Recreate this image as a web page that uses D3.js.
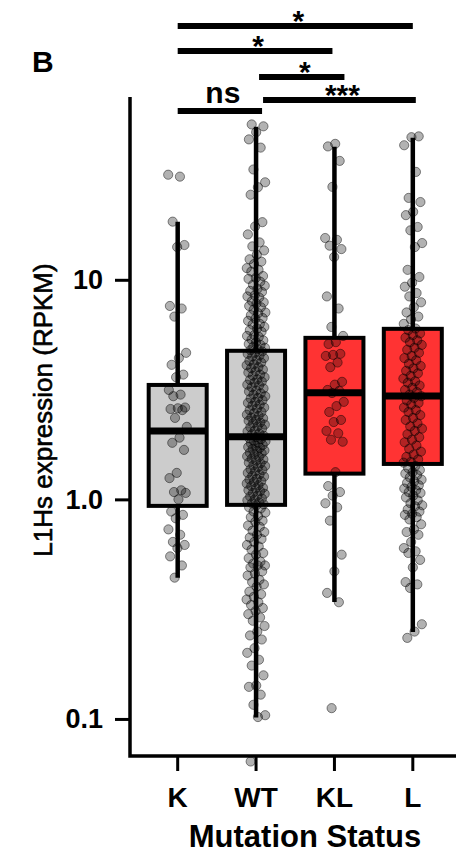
<!DOCTYPE html>
<html>
<head>
<meta charset="utf-8">
<script src="https://cdn.jsdelivr.net/npm/d3@7"></script>
<style>
  body { margin: 0; background: #fff; }
  svg text { font-family: "Liberation Sans", Arial, sans-serif; fill: #000; }
</style>
</head>
<body>
<svg id="chart" width="456" height="854"></svg>
<script>
// data
var groups = ["K", "WT", "KL", "L"];
var q1 = [0.934, 0.944, 1.31, 1.45];
var median = [2.05, 1.93, 3.06, 2.96];
var q3 = [3.32, 4.75, 5.44, 5.98];
var whiskerLow = [0.439, 0.1016, 0.341, 0.249];
var whiskerHigh = [18.4, 49.8, 40.4, 44.4];

var kPoints = [30.1, 29.5, 18.4, 14.4, 14.1, 7.6, 7.4, 6.8, 4.65, 4.4, 4.1, 3.7, 3.6, 3.15, 3.0, 2.95,
  2.62, 2.6, 2.58, 2.55, 2.35, 2.14, 1.91, 1.81, 1.68, 1.32, 1.25, 1.1, 1.08, 1.07, 1.0,
  0.88, 0.85, 0.82, 0.73, 0.69, 0.64, 0.62, 0.6, 0.55, 0.5, 0.44];

var wtPoints = [51, 50, 47, 43.6, 40, 31.8, 27.8, 26.4, 24.4, 18.3, 17.5, 16.1, 14.8, 14.2, 13.6,
  13.0, 12.4, 12.1, 11.8, 11.3, 11.1, 10.9, 10.4, 10.2, 10.1, 9.8, 9.5, 9.4, 9.1, 8.9, 8.8, 8.5,
  8.4, 8.3, 8.0, 7.9, 7.8, 7.6, 7.5, 7.3, 7.1, 7.05, 6.9, 6.7, 6.65, 6.5, 6.3, 6.25, 6.1, 6.0,
  5.9, 5.8, 5.6, 5.55, 5.5, 5.35, 5.3, 5.2, 5.1, 5.05, 4.95, 4.9, 4.83, 4.78,
  4.72, 4.65, 4.6, 4.52, 4.47, 4.4, 4.31, 4.27, 4.2, 4.12, 4.08, 4.0, 3.96, 3.9, 3.83, 3.78,
  3.7, 3.66, 3.6, 3.52, 3.5, 3.44, 3.4, 3.33, 3.3, 3.24, 3.2, 3.13, 3.1, 3.04, 3.0, 2.95, 2.9,
  2.88, 2.83, 2.78, 2.75, 2.7, 2.67, 2.62, 2.59, 2.55, 2.5, 2.47, 2.43, 2.4, 2.36, 2.34, 2.3,
  2.28, 2.24, 2.22, 2.19, 2.15, 2.13, 2.1, 2.06, 2.04, 2.0, 1.98, 1.95,
  1.92, 1.9, 1.88, 1.85, 1.84, 1.81, 1.8, 1.77, 1.76, 1.73, 1.72, 1.7, 1.67, 1.66, 1.63, 1.62,
  1.6, 1.57, 1.56, 1.53, 1.52, 1.5, 1.47, 1.46, 1.43, 1.42, 1.4, 1.37, 1.36, 1.34, 1.32, 1.3,
  1.28, 1.27, 1.24, 1.23, 1.21, 1.2, 1.18, 1.16, 1.15, 1.13, 1.12, 1.1, 1.09, 1.07, 1.06, 1.04,
  1.03, 1.01, 1.0, 0.99, 0.97, 0.96, 0.95,
  0.94, 0.92, 0.91, 0.88, 0.87, 0.84, 0.83, 0.8, 0.79, 0.76, 0.75, 0.72, 0.71, 0.69, 0.67, 0.66,
  0.64, 0.62, 0.61, 0.59, 0.57, 0.56, 0.54, 0.52, 0.51, 0.5, 0.5, 0.49, 0.47, 0.46, 0.45, 0.43,
  0.42, 0.41, 0.4, 0.38, 0.37, 0.36, 0.35, 0.34, 0.33, 0.32, 0.31, 0.3, 0.29, 0.28, 0.265,
  0.25, 0.24, 0.23, 0.21, 0.2, 0.186, 0.175, 0.158, 0.142, 0.14, 0.129, 0.116, 0.104, 0.102, 0.064];

var klPoints = [41.6, 40.5, 34.8, 26.5, 15.5, 15.2, 14.3, 13.8, 12.7, 8.4, 7.4, 6.1, 5.55, 5.2, 5.1,
  4.6, 4.55, 4.5, 4.2, 4.0, 3.43, 3.33, 3.15, 3.12, 3.05, 2.78, 2.66, 2.5, 2.3, 2.25, 2.05, 2.0,
  1.87, 1.83, 1.33, 1.15, 1.08, 1.04, 0.96, 0.92, 0.8, 0.56, 0.47, 0.375, 0.34, 0.112];

var lPoints = [45.0, 44.6, 41, 31, 23.6, 22.6, 20.4, 19.7, 17.4, 16.8, 14.7, 14.1, 11.1, 10.3, 9.7,
  9.3, 8.7, 8.4, 7.9, 7.5, 7.1, 6.8, 6.6, 6.3,
  6.0, 5.9, 5.7, 5.6, 5.45, 5.3, 5.2, 5.05, 4.9, 4.8, 4.65, 4.5, 4.4, 4.3, 4.15, 4.05, 3.95, 3.85,
  3.75, 3.65, 3.55, 3.45, 3.4, 3.3, 3.22, 3.15, 3.08, 3.0, 2.95, 2.9, 2.82, 2.75, 2.7, 2.62, 2.55,
  2.5, 2.42, 2.35, 2.3, 2.22, 2.15, 2.1, 2.05, 1.98, 1.92, 1.87, 1.82, 1.76, 1.7, 1.65, 1.6, 1.56,
  1.52, 1.48,
  1.47, 1.42, 1.39, 1.36, 1.33, 1.31, 1.29, 1.26, 1.23, 1.21, 1.19, 1.16, 1.14, 1.12, 1.1, 1.08,
  1.07, 1.04, 1.02, 0.99, 0.96, 0.94, 0.93, 0.9, 0.88, 0.86, 0.85, 0.83, 0.81, 0.77, 0.73, 0.71,
  0.69, 0.64, 0.6, 0.58, 0.57, 0.53, 0.49, 0.42, 0.41, 0.395, 0.27, 0.25, 0.234];

var points = [kPoints, wtPoints, klPoints, lPoints];

var yTicks = [0.1, 1, 10];
var yTickLabels = ["0.1", "1.0", "10"];

// significance brackets (group pairs + label)
var bracketFrom = ["K", "K", "WT", "WT", "K"];
var bracketTo = ["L", "KL", "KL", "L", "WT"];
var bracketLabel = ["*", "*", "*", "***", "ns"];

// layout / style
var boxFill = ["#cccccc", "#cccccc", "#ff3333", "#ff3333"];
var bracketRowY = [26, 51, 77, 100, 111];
var bracketNudgeL = [0, 0, 3, 7, 0];
var bracketNudgeR = [0, -2, 10, 3, 6];

var svg = d3.select('#chart'),
    plotLeft = 130, plotRight = 456, plotTop = 97, plotBottom = 756;

var x = d3.scaleBand()
    .domain(groups)
    .range([138.5, 452]);

var y = d3.scaleLog()
    .domain([0.0678, 68])
    .range([plotBottom, plotTop]);

var boxW = 58;

var g = svg.append('g');

// whiskers
g.selectAll('.whisker')
    .data(groups)
    .enter()
    .append('line')
    .attr('x1', d => x(d) + x.bandwidth() / 2)
    .attr('x2', d => x(d) + x.bandwidth() / 2)
    .attr('y1', (d, i) => y(whiskerLow[i]))
    .attr('y2', (d, i) => y(whiskerHigh[i]))
    .attr('stroke', '#000')
    .attr('stroke-width', 4.5);

// boxes
g.selectAll('.box')
    .data(groups)
    .enter()
    .append('rect')
    .attr('x', d => x(d) + x.bandwidth() / 2 - boxW / 2)
    .attr('width', boxW)
    .attr('y', (d, i) => y(q3[i]))
    .attr('height', (d, i) => y(q1[i]) - y(q3[i]))
    .attr('fill', (d, i) => boxFill[i])
    .attr('stroke', '#000')
    .attr('stroke-width', 4);

g.selectAll('.median')
    .data(groups)
    .enter()
    .append('line')
    .attr('x1', d => x(d) + x.bandwidth() / 2 - boxW / 2)
    .attr('x2', d => x(d) + x.bandwidth() / 2 + boxW / 2)
    .attr('y1', (d, i) => y(median[i]))
    .attr('y2', (d, i) => y(median[i]))
    .attr('stroke', '#000')
    .attr('stroke-width', 7);

// jittered points (deterministic jitter)
var jitter = 9.5;
groups.forEach(function (grp, gi) {
    g.append('g')
        .selectAll('circle')
        .data(points[gi])
        .enter()
        .append('circle')
        .attr('cx', (d, i) => x(grp) + x.bandwidth() / 2 + (((i * 0.6180339 + gi * 0.27) % 1) - 0.5) * 2 * jitter)
        .attr('cy', d => y(d))
        .attr('r', 4.6)
        .attr('fill', '#000')
        .attr('fill-opacity', 0.3)
        .attr('stroke', '#000')
        .attr('stroke-opacity', 0.45)
        .attr('stroke-width', 1);
});

// axes
var yAxis = d3.axisLeft(y)
    .tickValues(yTicks)
    .tickFormat((d, i) => yTickLabels[i])
    .tickSize(15)
    .tickPadding(12);

var ya = svg.append('g')
    .attr('transform', 'translate(' + plotLeft + ',0)')
    .call(yAxis);
ya.select('.domain').remove();
ya.selectAll('.tick line').attr('stroke', '#000').attr('stroke-width', 3);
ya.selectAll('.tick text')
    .style('font-size', '27px')
    .style('font-weight', 'bold');

var xAxis = d3.axisBottom(x)
    .tickSize(15)
    .tickPadding(16);

var xa = svg.append('g')
    .attr('transform', 'translate(0,' + plotBottom + ')')
    .call(xAxis);
xa.select('.domain').remove();
xa.selectAll('.tick line').attr('stroke', '#000').attr('stroke-width', 3);
xa.selectAll('.tick text')
    .style('font-size', '28px')
    .style('font-weight', 'bold');

svg.append('path')
    .attr('d', 'M' + plotLeft + ',' + plotTop + 'V' + plotBottom + 'H' + plotRight)
    .attr('fill', 'none')
    .attr('stroke', '#000')
    .attr('stroke-width', 3.5);

// titles
svg.append('text')
    .attr('transform', 'translate(52,410) rotate(-90)')
    .attr('text-anchor', 'middle')
    .style('font-size', '26px')
    .style('stroke', '#000')
    .style('stroke-width', 0.6)
    .text('L1Hs expression (RPKM)');

svg.append('text')
    .attr('x', 305)
    .attr('y', 847)
    .attr('text-anchor', 'middle')
    .style('font-size', '31px')
    .style('font-weight', 'bold')
    .text('Mutation Status');

svg.append('text')
    .attr('x', 32)
    .attr('y', 72)
    .style('font-size', '30px')
    .style('font-weight', 'bold')
    .text('B');

// brackets
var cx = d => x(d) + x.bandwidth() / 2;
bracketLabel.forEach(function (lab, i) {
    var x1 = cx(bracketFrom[i]) + bracketNudgeL[i],
        x2 = cx(bracketTo[i]) + bracketNudgeR[i],
        by = bracketRowY[i];
    svg.append('line')
        .attr('x1', x1).attr('x2', x2)
        .attr('y1', by).attr('y2', by)
        .attr('stroke', '#000')
        .attr('stroke-width', 6);
    svg.append('text')
        .attr('x', (x1 + x2) / 2 + 3)
        .attr('y', lab === 'ns' ? by - 8 : by + 5)
        .attr('text-anchor', 'middle')
        .style('font-size', '30px')
        .style('font-weight', 'bold')
        .text(lab);
});
</script>
</body>
</html>
